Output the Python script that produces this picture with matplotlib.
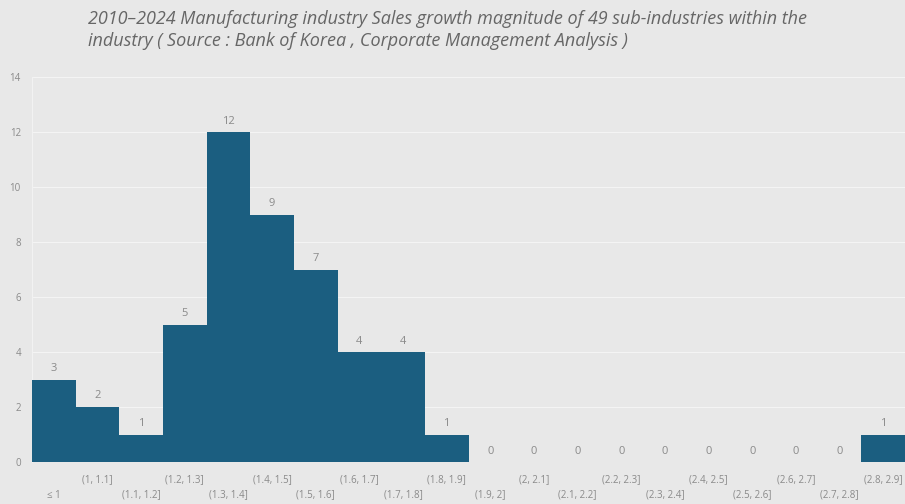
import numpy as np
import matplotlib.pyplot as plt

# categories and counts
categories = ['≤ 1', '(1, 1.1]', '(1.1, 1.2]', '(1.2, 1.3]', '(1.3, 1.4]', '(1.4, 1.5]',
              '(1.5, 1.6]', '(1.6, 1.7]', '(1.7, 1.8]', '(1.8, 1.9]', '(1.9, 2]',
              '(2, 2.1]', '(2.1, 2.2]', '(2.2, 2.3]', '(2.3, 2.4]', '(2.4, 2.5]',
              '(2.5, 2.6]', '(2.6, 2.7]', '(2.7, 2.8]', '(2.8, 2.9]']
counts = [3, 2, 1, 5, 12, 9, 7, 4, 4, 1, 0, 0, 0, 0, 0, 0, 0, 0, 0, 1]
yticks = [0, 2, 4, 6, 8, 10, 12, 14]

bg = '#e8e8e8'
bar_color = '#1b5e80'
txt = '#8a8a8a'

fig = plt.figure(figsize=(9.05, 5.04), dpi=100, facecolor=bg)
ax = fig.add_axes([32 / 905, 1 - 462 / 504, 1 - 32 / 905, (462 - 77) / 504])
ax.set_facecolor(bg)

x = np.arange(len(categories))
ax.bar(x, counts, width=1.0, color=bar_color, zorder=3)
ax.set_xlim(-0.5, len(categories) - 0.5)
ax.set_ylim(0, 14)

for xi, c in zip(x, counts):
    ax.text(xi, c + 0.2, str(c), ha='center', va='bottom', fontsize=8, color=txt,
            family='Open Sans')

ax.set_yticks(yticks)
ax.set_yticklabels([str(v) for v in yticks], fontsize=7, color=txt, family='Open Sans')
ax.tick_params(axis='y', length=0, pad=8)
ax.grid(axis='y', color='#f4f4f4', linewidth=0.8, zorder=0)
ax.set_xticks([])
for s in ['top', 'right', 'bottom']:
    ax.spines[s].set_visible(False)
ax.spines['left'].set_color('#f2f2f2')
ax.spines['left'].set_linewidth(0.8)

# staggered category labels
for xi, lab in zip(x, categories):
    yoff = -0.65 if xi % 2 == 1 else -1.2
    ax.text(xi, yoff, lab, ha='center', va='center', fontsize=7, color=txt,
            family='Open Sans', clip_on=False)

fig.text(88 / 905, 1 - 30 / 504,
         '2010–2024 Manufacturing industry Sales growth magnitude of 49 sub-industries within the\n'
         'industry ( Source : Bank of Korea , Corporate Management Analysis )',
         ha='left', va='center', fontsize=13, style='italic', color='#666666',
         family='Open Sans', linespacing=1.3)

fig.savefig('out.png', dpi=100, facecolor=bg)
